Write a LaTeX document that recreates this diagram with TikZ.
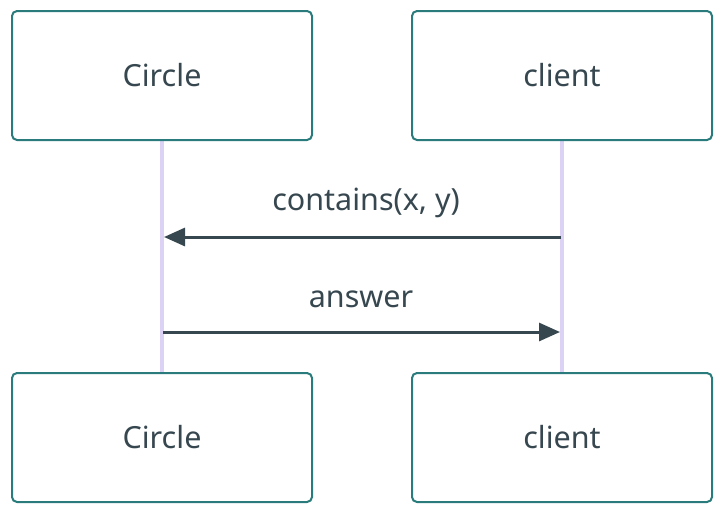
\documentclass[tikz,border=0pt]{standalone}
\usepackage{fontspec}
\setmainfont{Noto Sans}
\usetikzlibrary{arrows.meta}
\definecolor{boxc}{HTML}{2A7B7B}
\definecolor{txtc}{HTML}{37474F}
\definecolor{lifec}{HTML}{DCD2F6}
\tikzset{
  actor/.style={draw=boxc, line width=2pt, rounded corners=5pt, fill=white, minimum width=300pt, minimum height=129pt, text=txtc, font=\fontsize{30.5}{36}\selectfont},
  lifeline/.style={draw=lifec, line width=4pt},
  msg/.style={draw=txtc, line width=3pt, -{Triangle[length=21pt,width=18pt]}},
  lbl/.style={text=txtc, font=\fontsize{30.5}{36}\selectfont}
}
\begin{document}
\begin{tikzpicture}[x=1pt,y=1pt]
\useasboundingbox (0,0) rectangle (725,-515);
\fill[white] (0,0) rectangle (725,-515);
\draw[lifeline] (162,-140) -- (162,-373);
\draw[lifeline] (562,-140) -- (562,-373);
\node[actor] (c1) at (162,-75.5) {Circle};
\node[actor] (k1) at (562,-75.5) {client};
\node[actor] (c2) at (162,-437.5) {Circle};
\node[actor] (k2) at (562,-437.5) {client};
\coordinate (a1s) at (561,-237);
\coordinate (a1e) at (164,-237);
\coordinate (a2s) at (163,-332);
\coordinate (a2e) at (560,-332);
\draw[msg] (a1s) -- (a1e);
\draw[msg] (a2s) -- (a2e);
\node[lbl] (l1) at (366,-203) {contains(x, y)};
\node[lbl] (l2) at (361,-299) {answer};
\end{tikzpicture}
\end{document}
